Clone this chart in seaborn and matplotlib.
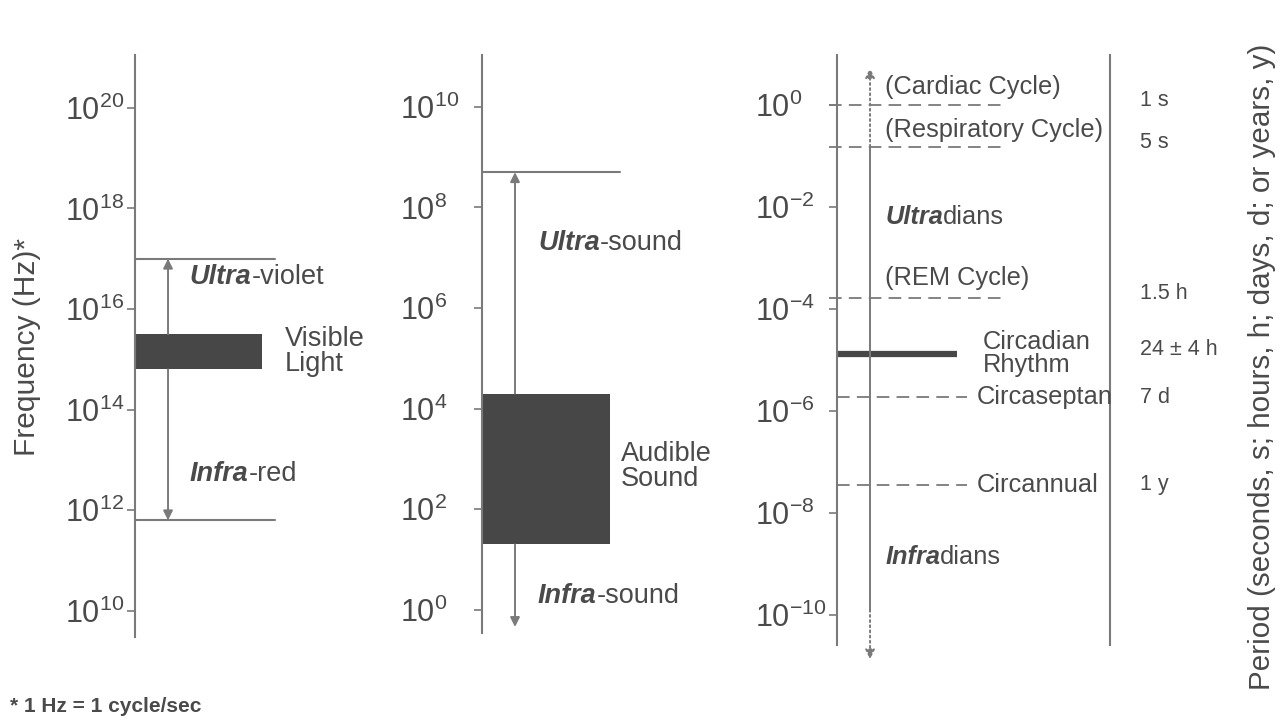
import numpy as np
import matplotlib
matplotlib.use('Agg')
import matplotlib.pyplot as plt
from matplotlib.ticker import NullLocator
import seaborn as sns

# --- data (log10 of frequency in Hz) ---
# panel 1: electromagnetic spectrum
em_ticks = [10, 12, 14, 16, 18, 20]
em_range = [9.48, 21.05]
uv_top = 17.0
ir_bottom = 11.8
visible_light = [14.8, 15.5]

# panel 2: sound
sound_ticks = [0, 2, 4, 6, 8, 10]
sound_range = [-0.46, 11.03]
ultrasound_top = 8.7
infrasound_bottom = -0.34
audible_sound = [1.3, 4.3]

# panel 3: biological rhythms
bio_ticks = [0, -2, -4, -6, -8, -10]
bio_range = [-10.59, 0.98]
cycle_names = ['(Cardiac Cycle)', '(Respiratory Cycle)', '(REM Cycle)']
cycle_freqs = [0.0, -0.82, -3.78]
cycle_name_y = [0.35, -0.49, -3.39]
cycle_periods = ['1 s', '5 s', '1.5 h']
circa_names = ['Circaseptan', 'Circannual']
circa_freqs = [-5.73, -7.45]
circa_periods = ['7 d', '1 y']
circadian_freq = -4.88
circadian_period = '24 ± 4 h'

sns.set_theme(style='white')
plt.rcParams['font.family'] = ['Liberation Sans', 'DejaVu Sans']
plt.rcParams['mathtext.fontset'] = 'custom'
plt.rcParams['mathtext.rm'] = 'Liberation Sans'
plt.rcParams['mathtext.it'] = 'Liberation Sans:italic'
plt.rcParams['mathtext.bf'] = 'Liberation Sans:bold'

TXT = '#4a4a4a'
LINE = '#7a7a7a'
BOX = '#474747'
FS = 19.5
FS3 = 18.3
DASH = (0, (7, 4))

W, H = 1281, 720
fig = plt.figure(figsize=(12.81, 7.2), dpi=100)


def make_axis(left, top, right, bottom, lims, ticks, label_left):
    ax = fig.add_axes([left / W, (H - bottom) / H, (right - left) / W, (bottom - top) / H])
    ax.set_yscale('log')
    ax.set_ylim(10.0 ** lims[0], 10.0 ** lims[1])
    ax.set_xlim(0, 1)
    ax.set_xticks([])
    ax.set_yticks([10.0 ** t for t in ticks])
    ax.set_yticklabels([rf'$10^{{{t}}}$' for t in ticks])
    ax.yaxis.set_minor_locator(NullLocator())
    tick_len = 6
    pad = (left - label_left) * 72 / 100 - tick_len
    ax.tick_params(axis='y', left=True, direction='out', length=tick_len, width=1.2,
                   color=LINE, labelsize=22, labelcolor=TXT, pad=pad)
    for t in ax.get_yticklabels():
        t.set_horizontalalignment('left')
    ax.set_facecolor('none')
    for s in ax.spines.values():
        s.set_color(LINE)
        s.set_linewidth(1.5)
    return ax


def prefix_label(ax, x, y, prefix, rest, size=FS):
    t = ax.text(x, 10.0 ** y, prefix, transform=ax.get_yaxis_transform(), fontsize=size,
                fontweight='bold', fontstyle='italic', color=TXT, va='center')
    ax.annotate(rest, xy=(1, 0), xycoords=t, va='bottom', fontsize=size, color=TXT)


def label(ax, x, y, s, size=FS, **kw):
    ax.text(x, 10.0 ** y, s, transform=ax.get_yaxis_transform(), fontsize=size,
            color=TXT, va='center', ha='left', **kw)


def arrow(ax, x, y0, y1, ls='-'):
    ax.annotate('', xy=(x, 10.0 ** y1), xytext=(x, 10.0 ** y0),
                xycoords=ax.get_yaxis_transform(),
                arrowprops=dict(arrowstyle='-|>', color=LINE, lw=1.4, ls=ls,
                                mutation_scale=14, shrinkA=0, shrinkB=0))


# ---- panel 1 ----
ax1 = make_axis(135, 55, 395, 637, em_range, em_ticks, 65)
sns.despine(ax=ax1, top=True, right=True, bottom=True)
ax1.plot([0, 0.54], [10.0 ** uv_top] * 2, color=LINE, lw=1.5)
ax1.plot([0, 0.54], [10.0 ** ir_bottom] * 2, color=LINE, lw=1.5)
ax1.fill_between([0, 0.49], 10.0 ** visible_light[0], 10.0 ** visible_light[1], color=BOX, lw=0)
arrow(ax1, 0.127, visible_light[1], uv_top)
arrow(ax1, 0.127, visible_light[0], ir_bottom)
prefix_label(ax1, 0.21, 16.64, 'Ultra', '-violet')
label(ax1, 0.577, 15.15, 'Visible\nLight', linespacing=0.95)
prefix_label(ax1, 0.21, 12.72, 'Infra', '-red')

# ---- panel 2 ----
ax2 = make_axis(482, 55, 732, 633, sound_range, sound_ticks, 400)
sns.despine(ax=ax2, top=True, right=True, bottom=True)
ax2.plot([0, 0.552], [10.0 ** ultrasound_top] * 2, color=LINE, lw=1.5)
ax2.fill_between([0, 0.512], 10.0 ** audible_sound[0], 10.0 ** audible_sound[1], color=BOX, lw=0)
arrow(ax2, 0.132, audible_sound[1], ultrasound_top)
arrow(ax2, 0.132, audible_sound[0], infrasound_bottom)
prefix_label(ax2, 0.224, 7.29, 'Ultra', '-sound')
label(ax2, 0.556, 2.84, 'Audible\nSound', linespacing=0.95)
prefix_label(ax2, 0.224, 0.27, 'Infra', '-sound')

# ---- panel 3 ----
ax3 = make_axis(837, 55, 1110, 645, bio_range, bio_ticks, 755)
sns.despine(ax=ax3, top=True, right=False, bottom=True)
for name, f, ny, per in zip(cycle_names, cycle_freqs, cycle_name_y, cycle_periods):
    ax3.plot([-0.03, 0.623], [10.0 ** f] * 2, color=LINE, lw=1.3, ls=DASH, clip_on=False)
    label(ax3, 0.176, ny, name, size=FS3)
    label(ax3, 1.11, f + 0.08, per, size=FS - 4)
for name, f, per in zip(circa_names, circa_freqs, circa_periods):
    ax3.plot([0, 0.476], [10.0 ** f] * 2, color=LINE, lw=1.3, ls=DASH)
    label(ax3, 0.513, f, name, size=FS3)
    label(ax3, 1.11, f, per, size=FS - 4)
ax3.plot([0, 0.44], [10.0 ** circadian_freq] * 2, color=BOX, lw=4.5, solid_capstyle='butt')
label(ax3, 0.535, circadian_freq, 'Circadian\nRhythm', size=FS3, linespacing=0.95)
label(ax3, 1.11, circadian_freq + 0.08, circadian_period, size=FS - 4)
prefix_label(ax3, 0.176, -2.2, 'Ultra', 'dians', size=FS3)
prefix_label(ax3, 0.176, -8.86, 'Infra', 'dians', size=FS3)

# central arrow: solid body, dotted ends
ax3.plot([0.121, 0.121], [10.0 ** -0.82, 10.0 ** -9.9], color=LINE, lw=1.4)
arrow(ax3, 0.121, -0.82, 0.72, ls=':')
arrow(ax3, 0.121, -9.9, -10.87, ls=':')

# axis titles and footnote
fig.text(27 / W, (H - 347) / H, 'Frequency (Hz)*', rotation=90, ha='center', va='center',
         fontsize=21.5, color=TXT)
fig.text(1262 / W, (H - 367) / H, 'Period (seconds, s; hours, h; days, d; or years, y)',
         rotation=90, ha='center', va='center', fontsize=21.3, color=TXT)
fig.text(10 / W, (H - 707) / H, '* 1 Hz = 1 cycle/sec', ha='left', va='center',
         fontsize=15, color=TXT, fontweight='bold')

fig.savefig('out.png', dpi=100, facecolor='white')
